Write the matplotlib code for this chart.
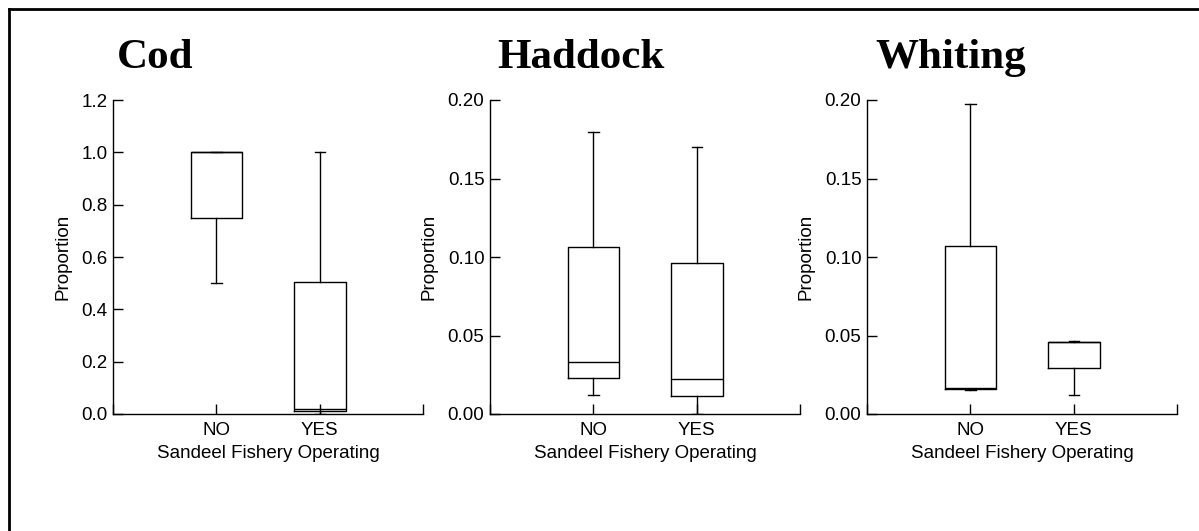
import matplotlib.pyplot as plt
from matplotlib.lines import Line2D

# categories and panel titles
groups = ["NO", "YES"]
species = ["Cod", "Haddock", "Whiting"]

# box plot summaries: [NO, YES]
whisker_low = {"Cod": [0.50, 0.0], "Haddock": [0.012, 0.0], "Whiting": [0.0153, 0.0123]}
q1 = {"Cod": [0.75, 0.01], "Haddock": [0.0227, 0.0112], "Whiting": [0.0161, 0.029]}
median = {"Cod": [1.0, 0.019], "Haddock": [0.0331, 0.0223], "Whiting": [0.0168, 0.046]}
q3 = {"Cod": [1.0, 0.506], "Haddock": [0.1063, 0.0961], "Whiting": [0.1069, 0.046]}
whisker_high = {"Cod": [1.0, 1.0], "Haddock": [0.1794, 0.170], "Whiting": [0.1972, 0.0462]}

y_max = {"Cod": 1.2, "Haddock": 0.20, "Whiting": 0.20}
y_ticks = {
    "Cod": [0.0, 0.2, 0.4, 0.6, 0.8, 1.0, 1.2],
    "Haddock": [0.0, 0.05, 0.10, 0.15, 0.20],
    "Whiting": [0.0, 0.05, 0.10, 0.15, 0.20],
}
y_fmt = {"Cod": "{:.1f}", "Haddock": "{:.2f}", "Whiting": "{:.2f}"}

W, H = 1199, 531
fig = plt.figure(figsize=(W / 100, H / 100), dpi=100)
plt.rcParams["font.family"] = ["Liberation Sans", "DejaVu Sans"]

# outer frame (top and left edges visible)
fig.add_artist(Line2D([9 / W, 1.0], [1 - 9 / H, 1 - 9 / H], transform=fig.transFigure,
                      color="black", lw=2))
fig.add_artist(Line2D([9 / W, 9 / W], [0.0, 1 - 9 / H], transform=fig.transFigure,
                      color="black", lw=2))

lefts = [113, 490, 867]
title_x = [117, 497, 875]
ax_bottom, ax_top, ax_w = 414, 100, 310

for name, left, tx in zip(species, lefts, title_x):
    ax = fig.add_axes([left / W, (H - ax_bottom) / H, ax_w / W, (ax_bottom - ax_top) / H])
    stats = []
    for i, g in enumerate(groups):
        stats.append({
            "label": g,
            "whislo": whisker_low[name][i],
            "q1": q1[name][i],
            "med": median[name][i],
            "q3": q3[name][i],
            "whishi": whisker_high[name][i],
            "fliers": [],
        })
    line = dict(color="black", linewidth=1.0)
    ax.bxp(stats, positions=[1, 2], widths=0.5, capwidths=0.1, showfliers=False,
           boxprops=line, whiskerprops=line, capprops=line,
           medianprops=dict(color="black", linewidth=1.0))
    ax.set_xlim(0, 3)
    ax.set_ylim(0, y_max[name])
    ax.set_xticks([0, 1, 2, 3])
    ax.set_xticklabels(["", "NO", "YES", ""])
    ax.set_yticks(y_ticks[name])
    ax.set_yticklabels([y_fmt[name].format(v) for v in y_ticks[name]])
    for s in ["top", "right"]:
        ax.spines[s].set_visible(False)
    for s in ["left", "bottom"]:
        ax.spines[s].set_linewidth(1.0)
    ax.tick_params(direction="in", length=7, width=1.0, labelsize=13.5, pad=4)
    ax.tick_params(axis="x", pad=6)
    ax.set_ylabel("Proportion", fontsize=13.5, labelpad=7)
    ax.set_xlabel("Sandeel Fishery Operating", fontsize=13.5, labelpad=4)
    fig.text(tx / W, 1 - 68 / H, name, ha="left", va="baseline",
             fontsize=31, fontweight="bold", family=["Liberation Serif", "DejaVu Serif"])

fig.savefig("out.png", dpi=100)
